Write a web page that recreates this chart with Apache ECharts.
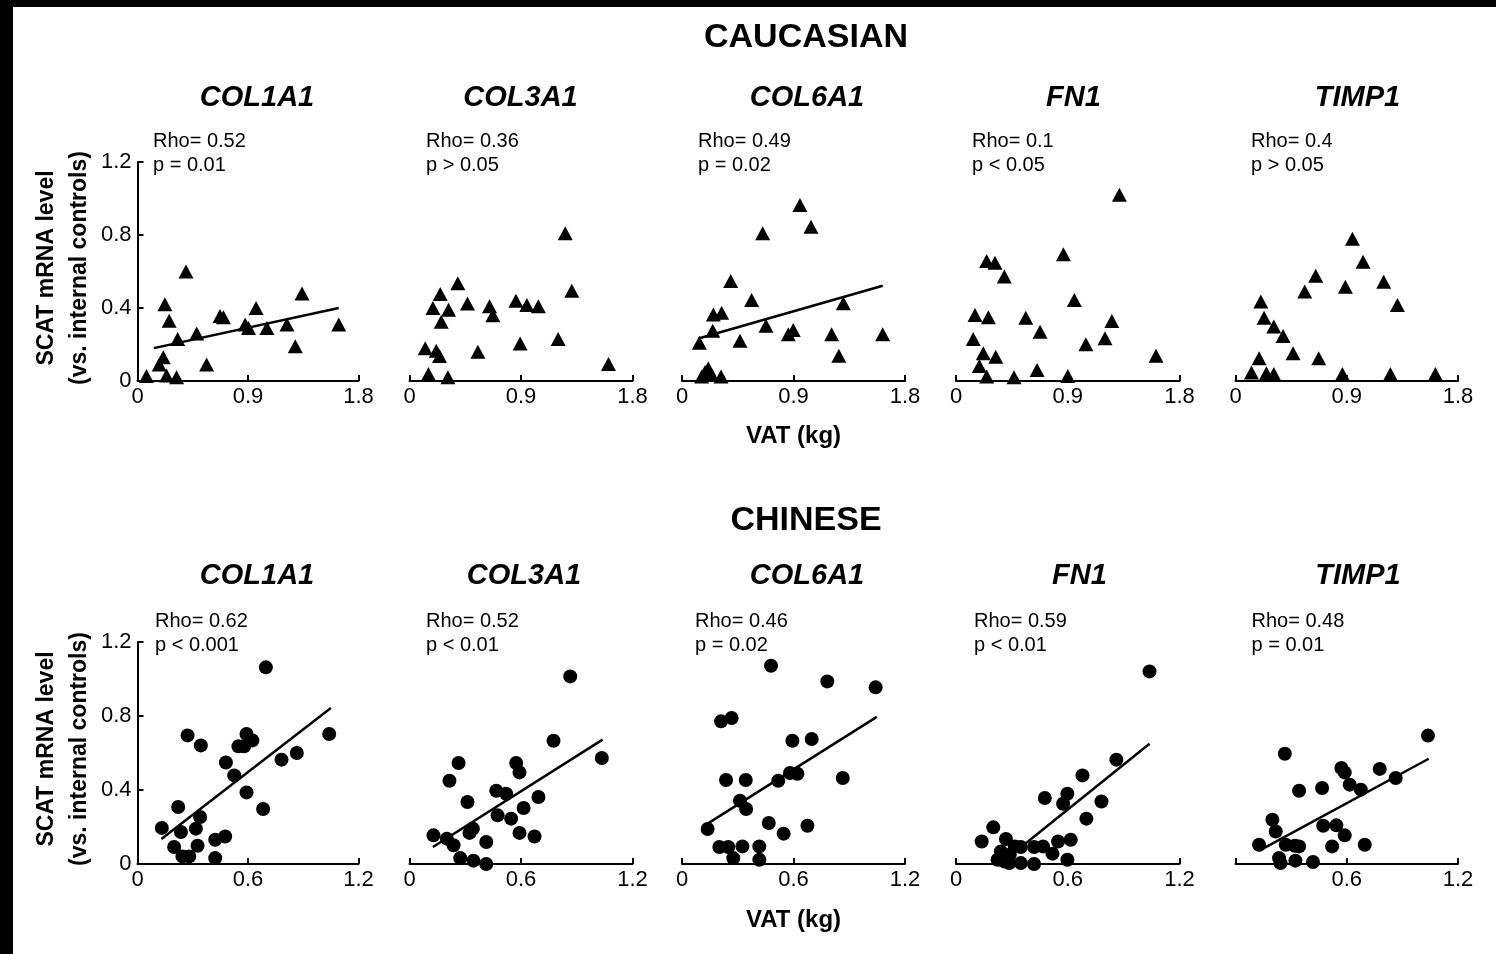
<!DOCTYPE html>
<html><head><meta charset="utf-8">
<script src="https://cdn.jsdelivr.net/npm/echarts@6/dist/echarts.min.js"></script>
<style>html,body{margin:0;padding:0;background:#fff;}#c{width:1496px;height:954px;}</style>
</head><body><div id="c"></div>
<script>
// ---------- data ----------
const genes = ['COL1A1', 'COL3A1', 'COL6A1', 'FN1', 'TIMP1'];
const groups = ['CAUCASIAN', 'CHINESE'];
const xAxisTitle = 'VAT (kg)';
const yAxisTitleLine1 = 'SCAT mRNA level';
const yAxisTitleLine2 = '(vs. internal controls)';
const yTicks = [0, 0.4, 0.8, 1.2];
const xTicksCau = [0, 0.9, 1.8];
const xTicksChi = [0, 0.6, 1.2];
const rhoCau = ['Rho= 0.52', 'Rho= 0.36', 'Rho= 0.49', 'Rho= 0.1', 'Rho= 0.4'];
const pCau = ['p = 0.01', 'p > 0.05', 'p = 0.02', 'p < 0.05', 'p > 0.05'];
const rhoChi = ['Rho= 0.62', 'Rho= 0.52', 'Rho= 0.46', 'Rho= 0.59', 'Rho= 0.48'];
const pChi = ['p < 0.001', 'p < 0.01', 'p = 0.02', 'p < 0.01', 'p = 0.01'];

// Caucasian (triangles)
const cauCOL1A1 = [[0.073,0.027],[0.177,0.09],[0.21,0.13],[0.237,0.03],[0.318,0.02],[0.223,0.42],[0.258,0.33],[0.327,0.23],[0.395,0.60],[0.482,0.26],[0.563,0.09],[0.672,0.356],[0.70,0.35],[0.877,0.31],[0.904,0.29],[0.966,0.40],[1.054,0.29],[1.217,0.31],[1.285,0.19],[1.34,0.48],[1.639,0.31]];
const cauCOL3A1 = [[1.257,0.81],[1.31,0.495],[0.39,0.535],[0.248,0.477],[0.189,0.40],[0.315,0.39],[0.256,0.325],[0.468,0.425],[0.646,0.41],[0.673,0.36],[0.859,0.44],[0.947,0.416],[1.04,0.41],[0.127,0.18],[0.216,0.166],[0.242,0.137],[0.552,0.16],[0.893,0.206],[1.20,0.23],[1.606,0.093],[0.153,0.038],[0.31,0.02]];
const cauCOL6A1 = [[0.952,0.964],[1.041,0.845],[0.651,0.81],[0.393,0.548],[0.562,0.444],[0.253,0.365],[0.32,0.374],[0.248,0.276],[0.14,0.21],[0.678,0.303],[0.468,0.221],[0.858,0.256],[0.898,0.279],[1.208,0.256],[1.302,0.426],[1.62,0.256],[1.266,0.139],[0.212,0.07],[0.159,0.024],[0.24,0.033],[0.315,0.024],[0.186,0.05]];
const cauFN1 = [[1.316,1.02],[0.865,0.694],[0.247,0.658],[0.314,0.648],[0.389,0.572],[0.953,0.444],[0.153,0.362],[0.261,0.349],[0.562,0.347],[0.677,0.27],[1.255,0.329],[0.139,0.23],[1.2,0.234],[1.046,0.201],[0.22,0.152],[0.32,0.133],[1.611,0.139],[0.188,0.082],[0.653,0.06],[0.247,0.024],[0.467,0.02],[0.9,0.027]];
const cauTIMP1 = [[0.946,0.78],[1.032,0.654],[0.649,0.577],[0.56,0.49],[0.889,0.517],[1.199,0.544],[1.31,0.416],[0.205,0.435],[0.231,0.347],[0.31,0.298],[0.385,0.247],[0.466,0.152],[0.673,0.124],[0.191,0.124],[0.129,0.046],[0.25,0.042],[0.31,0.038],[0.865,0.038],[1.253,0.038],[1.617,0.038]];
const cauFitCOL1A1 = [[0.133,0.18],[1.639,0.40]];
const cauFitCOL6A1 = [[0.14,0.234],[1.62,0.522]];

// Chinese (circles)
const chiCOL1A1 = [[0.697,1.063],[1.041,0.703],[0.865,0.6],[0.782,0.564],[0.272,0.695],[0.344,0.641],[0.592,0.703],[0.624,0.668],[0.548,0.636],[0.579,0.636],[0.48,0.549],[0.525,0.479],[0.592,0.387],[0.682,0.297],[0.221,0.308],[0.34,0.254],[0.132,0.195],[0.236,0.173],[0.317,0.191],[0.199,0.092],[0.326,0.099],[0.244,0.041],[0.281,0.041],[0.422,0.131],[0.476,0.149],[0.422,0.032]];
const chiCOL3A1 = [[0.865,1.014],[0.775,0.666],[1.035,0.573],[0.264,0.546],[0.215,0.45],[0.574,0.546],[0.592,0.495],[0.467,0.396],[0.52,0.38],[0.694,0.362],[0.312,0.335],[0.614,0.303],[0.474,0.263],[0.547,0.245],[0.341,0.191],[0.323,0.168],[0.592,0.168],[0.673,0.149],[0.129,0.155],[0.201,0.137],[0.237,0.101],[0.413,0.119],[0.273,0.032],[0.344,0.018],[0.413,0.0]];
const chiCOL6A1 = [[0.479,1.072],[0.782,0.987],[1.042,0.955],[0.21,0.771],[0.267,0.789],[0.594,0.666],[0.698,0.676],[0.237,0.454],[0.343,0.454],[0.518,0.45],[0.581,0.492],[0.621,0.488],[0.865,0.465],[0.312,0.342],[0.345,0.297],[0.138,0.189],[0.467,0.222],[0.547,0.164],[0.675,0.207],[0.201,0.092],[0.249,0.092],[0.325,0.095],[0.416,0.095],[0.276,0.032],[0.416,0.023]];
const chiFN1 = [[1.039,1.041],[0.861,0.564],[0.679,0.479],[0.598,0.38],[0.477,0.357],[0.575,0.326],[0.781,0.338],[0.7,0.245],[0.2,0.198],[0.138,0.122],[0.268,0.135],[0.616,0.131],[0.548,0.122],[0.467,0.095],[0.42,0.092],[0.348,0.092],[0.316,0.095],[0.241,0.068],[0.518,0.056],[0.289,0.05],[0.223,0.023],[0.259,0.014],[0.286,0.005],[0.348,0.005],[0.419,0.0],[0.598,0.023]];
const chiTIMP1 = [[1.038,0.694],[0.266,0.596],[0.778,0.514],[0.571,0.519],[0.589,0.495],[0.864,0.465],[0.616,0.429],[0.676,0.402],[0.343,0.396],[0.467,0.411],[0.199,0.239],[0.217,0.176],[0.473,0.207],[0.544,0.209],[0.589,0.155],[0.127,0.104],[0.271,0.104],[0.32,0.099],[0.343,0.095],[0.521,0.095],[0.697,0.104],[0.235,0.032],[0.243,0.005],[0.323,0.018],[0.418,0.011]];
const chiFitCOL1A1 = [[0.13,0.135],[1.05,0.843]];
const chiFitCOL3A1 = [[0.126,0.092],[1.039,0.672]];
const chiFitCOL6A1 = [[0.138,0.218],[1.048,0.795]];
const chiFitFN1 = [[0.37,0.108],[1.039,0.65]];
const chiFitTIMP1 = [[0.131,0.074],[1.042,0.569]];

// ---------- layout ----------
const FONT = 'Liberation Sans, Arial, Helvetica, sans-serif';
const lefts = [137.5, 409.5, 682, 956, 1235.5];
const widths = [221, 223, 223, 223.5, 222.5];
const rows = [
  { top: 162, height: 219, ticks: xTicksCau, symbol: 'triangle', size: [15, 14],
    data: [cauCOL1A1, cauCOL3A1, cauCOL6A1, cauFN1, cauTIMP1],
    fits: [cauFitCOL1A1, null, cauFitCOL6A1, null, null],
    rho: rhoCau, p: pCau, rhoX: [153, 426, 698, 972, 1251], rhoY: 141, pY: 165,
    titleX: [257, 520.5, 807, 1073.5, 1357.5], titleY: 98, groupY: 38, vatY: 436, yTitleY: 268 },
  { top: 642, height: 222, ticks: xTicksChi, symbol: 'circle', size: 14,
    data: [chiCOL1A1, chiCOL3A1, chiCOL6A1, chiFN1, chiTIMP1],
    fits: [chiFitCOL1A1, chiFitCOL3A1, chiFitCOL6A1, chiFitFN1, chiFitTIMP1],
    rho: rhoChi, p: pChi, rhoX: [155, 426, 695, 974, 1251.5], rhoY: 621, pY: 645,
    titleX: [257, 524, 807, 1079.5, 1358], titleY: 576, groupY: 521, vatY: 920, yTitleY: 749 }
];

const grid = [], xAxis = [], yAxis = [], series = [], graphic = [];
graphic.push({ type: 'rect', shape: { x: 0, y: 0, width: 1496, height: 7 }, style: { fill: '#000' } });
graphic.push({ type: 'rect', shape: { x: 0, y: 0, width: 13, height: 954 }, style: { fill: '#000' } });

rows.forEach((row, r) => {
  const ticks = row.ticks;
  graphic.push({ type: 'text', x: 806, y: row.groupY,
    style: { text: groups[r], font: 'bold 34px ' + FONT, fill: '#000', align: 'center', verticalAlign: 'middle' } });
  graphic.push({ type: 'text', x: 793.5, y: row.vatY,
    style: { text: xAxisTitle, font: 'bold 24px ' + FONT, fill: '#000', align: 'center', verticalAlign: 'middle' } });
  graphic.push({ type: 'text', x: 47, y: row.yTitleY, rotation: Math.PI / 2,
    style: { text: yAxisTitleLine1, font: 'bold 23px ' + FONT, fill: '#000', align: 'center', verticalAlign: 'middle' } });
  graphic.push({ type: 'text', x: 80, y: row.yTitleY, rotation: Math.PI / 2,
    style: { text: yAxisTitleLine2, font: 'bold 23px ' + FONT, fill: '#000', align: 'center', verticalAlign: 'middle' } });

  genes.forEach((g, c) => {
    const idx = r * 5 + c;
    graphic.push({ type: 'text', x: row.titleX[c], y: row.titleY,
      style: { text: g, font: 'italic bold 29px ' + FONT, fill: '#000', align: 'center', verticalAlign: 'middle' } });
    graphic.push({ type: 'text', x: row.rhoX[c], y: row.rhoY,
      style: { text: row.rho[c], font: '20px ' + FONT, fill: '#000', align: 'left', verticalAlign: 'middle' } });
    graphic.push({ type: 'text', x: row.rhoX[c], y: row.pY,
      style: { text: row.p[c], font: '20px ' + FONT, fill: '#000', align: 'left', verticalAlign: 'middle' } });

    grid.push({ left: lefts[c], top: row.top, width: widths[c], height: row.height, containLabel: false });
    const hideZero = (r === 1 && c === 4);
    xAxis.push({
      type: 'value', gridIndex: idx, min: ticks[0], max: ticks[2], interval: ticks[1] - ticks[0],
      axisLine: { show: true, onZero: false, lineStyle: { color: '#000', width: 2 } },
      axisTick: { show: true, inside: true, length: 6, lineStyle: { color: '#000', width: 2 } },
      splitLine: { show: false },
      axisLabel: { show: true, color: '#000', fontSize: 22, fontFamily: FONT, margin: 5,
        formatter: v => (hideZero && v === 0) ? '' : String(+v.toFixed(2)) }
    });
    const showY = (c === 0);
    yAxis.push({
      type: 'value', gridIndex: idx, min: yTicks[0], max: yTicks[3], interval: yTicks[1] - yTicks[0],
      show: showY,
      axisLine: { show: showY, onZero: false, lineStyle: { color: '#000', width: 2 } },
      axisTick: { show: showY, inside: true, length: 6, lineStyle: { color: '#000', width: 2 } },
      splitLine: { show: false },
      axisLabel: { show: showY, color: '#000', fontSize: 22, fontFamily: FONT, margin: 6,
        formatter: v => String(+v.toFixed(2)) }
    });
    series.push({
      type: 'scatter', xAxisIndex: idx, yAxisIndex: idx, data: row.data[c],
      symbol: row.symbol, symbolSize: row.size, clip: false,
      itemStyle: { color: '#000', opacity: 1 }, z: 3, silent: true
    });
    if (row.fits[c]) {
      series.push({
        type: 'line', xAxisIndex: idx, yAxisIndex: idx, data: row.fits[c],
        showSymbol: false, symbol: 'none', lineStyle: { color: '#000', width: 2.5 }, z: 4, silent: true
      });
    }
  });
});

const chart = echarts.init(document.getElementById('c'), null, { renderer: 'canvas' });
chart.setOption({
  backgroundColor: '#fff',
  animation: false,
  grid, xAxis, yAxis, series, graphic
});
</script>
</body></html>
